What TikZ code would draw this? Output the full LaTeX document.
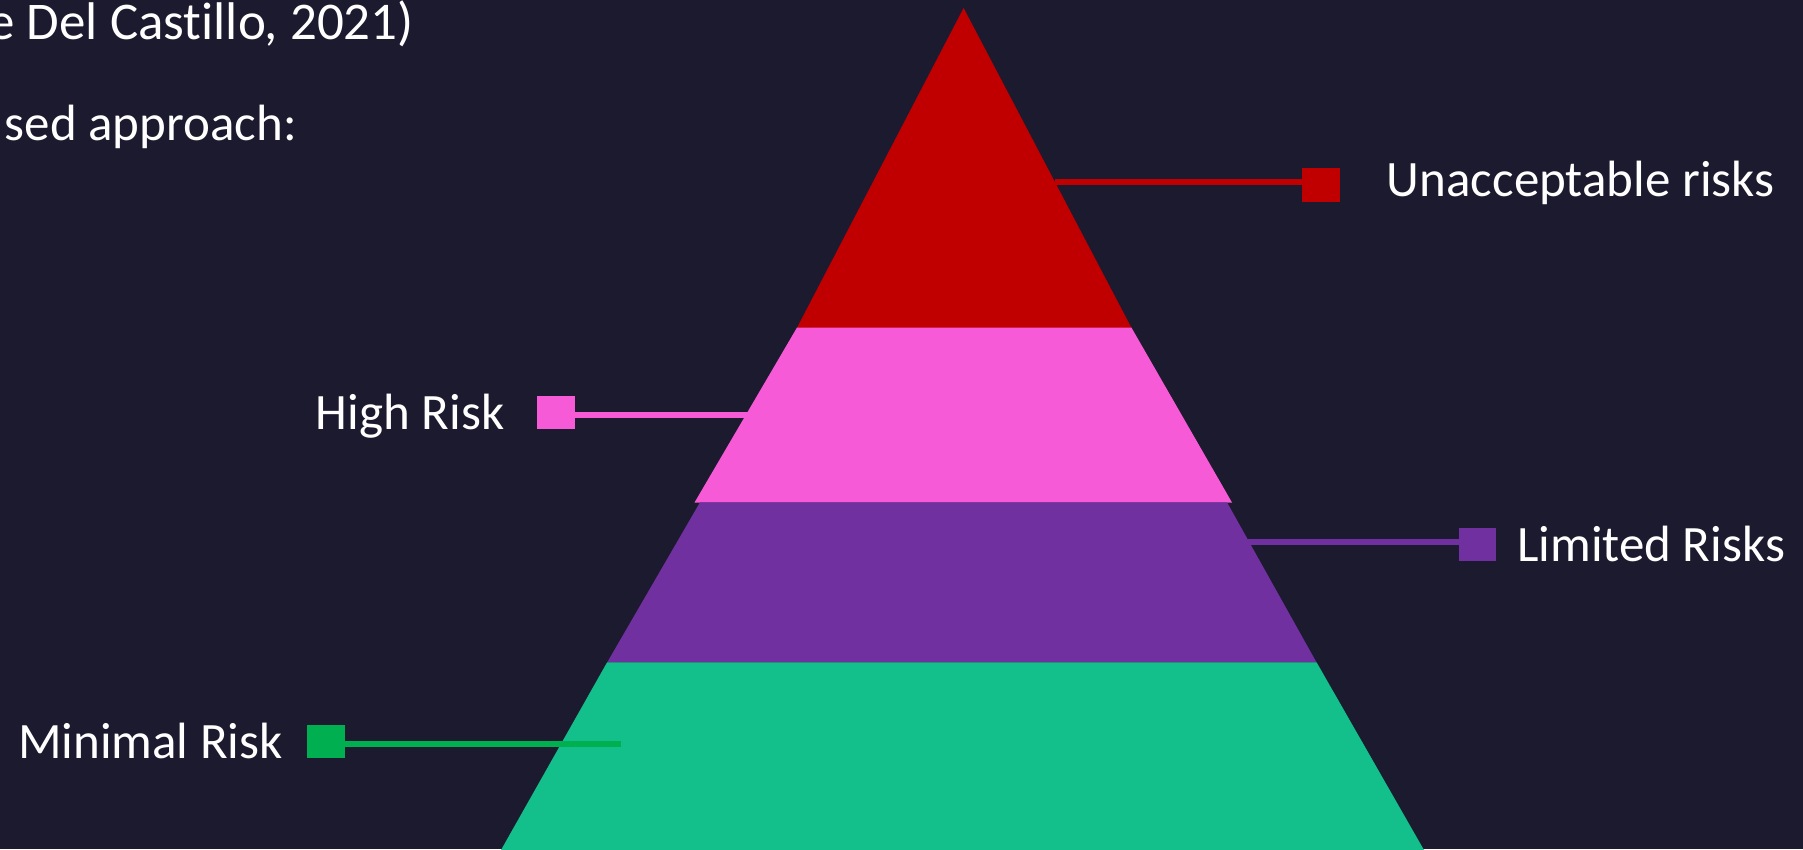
\documentclass[tikz,border=0pt]{standalone}
\usepackage{fontspec}
\setmainfont{Carlito}[Ligatures=NoCommon]
\definecolor{bg}{HTML}{1C1A2E}
\definecolor{rred}{HTML}{C00000}
\definecolor{rpink}{HTML}{F65AD6}
\definecolor{rpurple}{HTML}{7030A0}
\definecolor{rgreen}{HTML}{13BF8A}
\definecolor{rlgreen}{HTML}{00B050}
\begin{document}
\begin{tikzpicture}[x=1pt,y=-1pt,
  lbl/.style={text=white,inner sep=0pt,font=\fontsize{51}{60}\selectfont},
  marker/.style={draw=none,inner sep=0pt,minimum width=37.5pt,minimum height=33.5pt},
  leader/.style={line width=6pt}]
\fill[bg] (0,0) rectangle (1803,849);
\useasboundingbox (0,0) rectangle (1803,849);
% pyramid bands
\fill[rred] (963.6,8) -- (1131.5,327.9) -- (796.9,327.9) -- cycle;
\fill[rpink] (796.9,327.7) -- (1131.5,327.7) -- (1232,502.5) -- (694.5,502.5) -- cycle;
\fill[rpurple] (700,502.3) -- (1227,502.3) -- (1316.6,662.5) -- (607.1,662.5) -- cycle;
\fill[rgreen] (607.1,662.3) -- (1316.6,662.3) -- (1424,850) -- (501,850) -- cycle;
% top texts
\node[lbl,anchor=base east,font=\fontsize{53}{60}\selectfont] (t1) at (414,39) {e Del Castillo, 2021)};
\node[lbl,anchor=base east] (t2) at (297,140) {sed approach:};
% markers
\node[marker,fill=rred] (mU) at (1321,185) {};
\node[marker,fill=rpink] (mH) at (556,412.5) {};
\node[marker,fill=rpurple] (mL) at (1477.5,544.5) {};
\node[marker,fill=rlgreen] (mM) at (326,741.5) {};
% leader ends
\coordinate (eU) at (1055,182);
\coordinate (eH) at (748,415);
\coordinate (eL) at (1248,541.7);
\coordinate (eM) at (620.7,744);
\draw[leader,rred] (eU) -- (mU.west |- eU);
\draw[leader,rpink] (mH.east |- eH) -- (eH);
\draw[leader,rpurple] (eL) -- (mL.west |- eL);
\draw[leader,rlgreen] (mM.east |- eM) -- (eM);
% labels
\node[lbl,anchor=base west] (lU) at (1386.7,196) {Unacceptable risks};
\node[lbl,anchor=base east] (lH) at (504.5,429) {High Risk};
\node[lbl,anchor=base west] (lL) at (1517,561) {Limited Risks};
\node[lbl,anchor=base east] (lM) at (283,758) {Minimal Risk};
\end{tikzpicture}
\end{document}
